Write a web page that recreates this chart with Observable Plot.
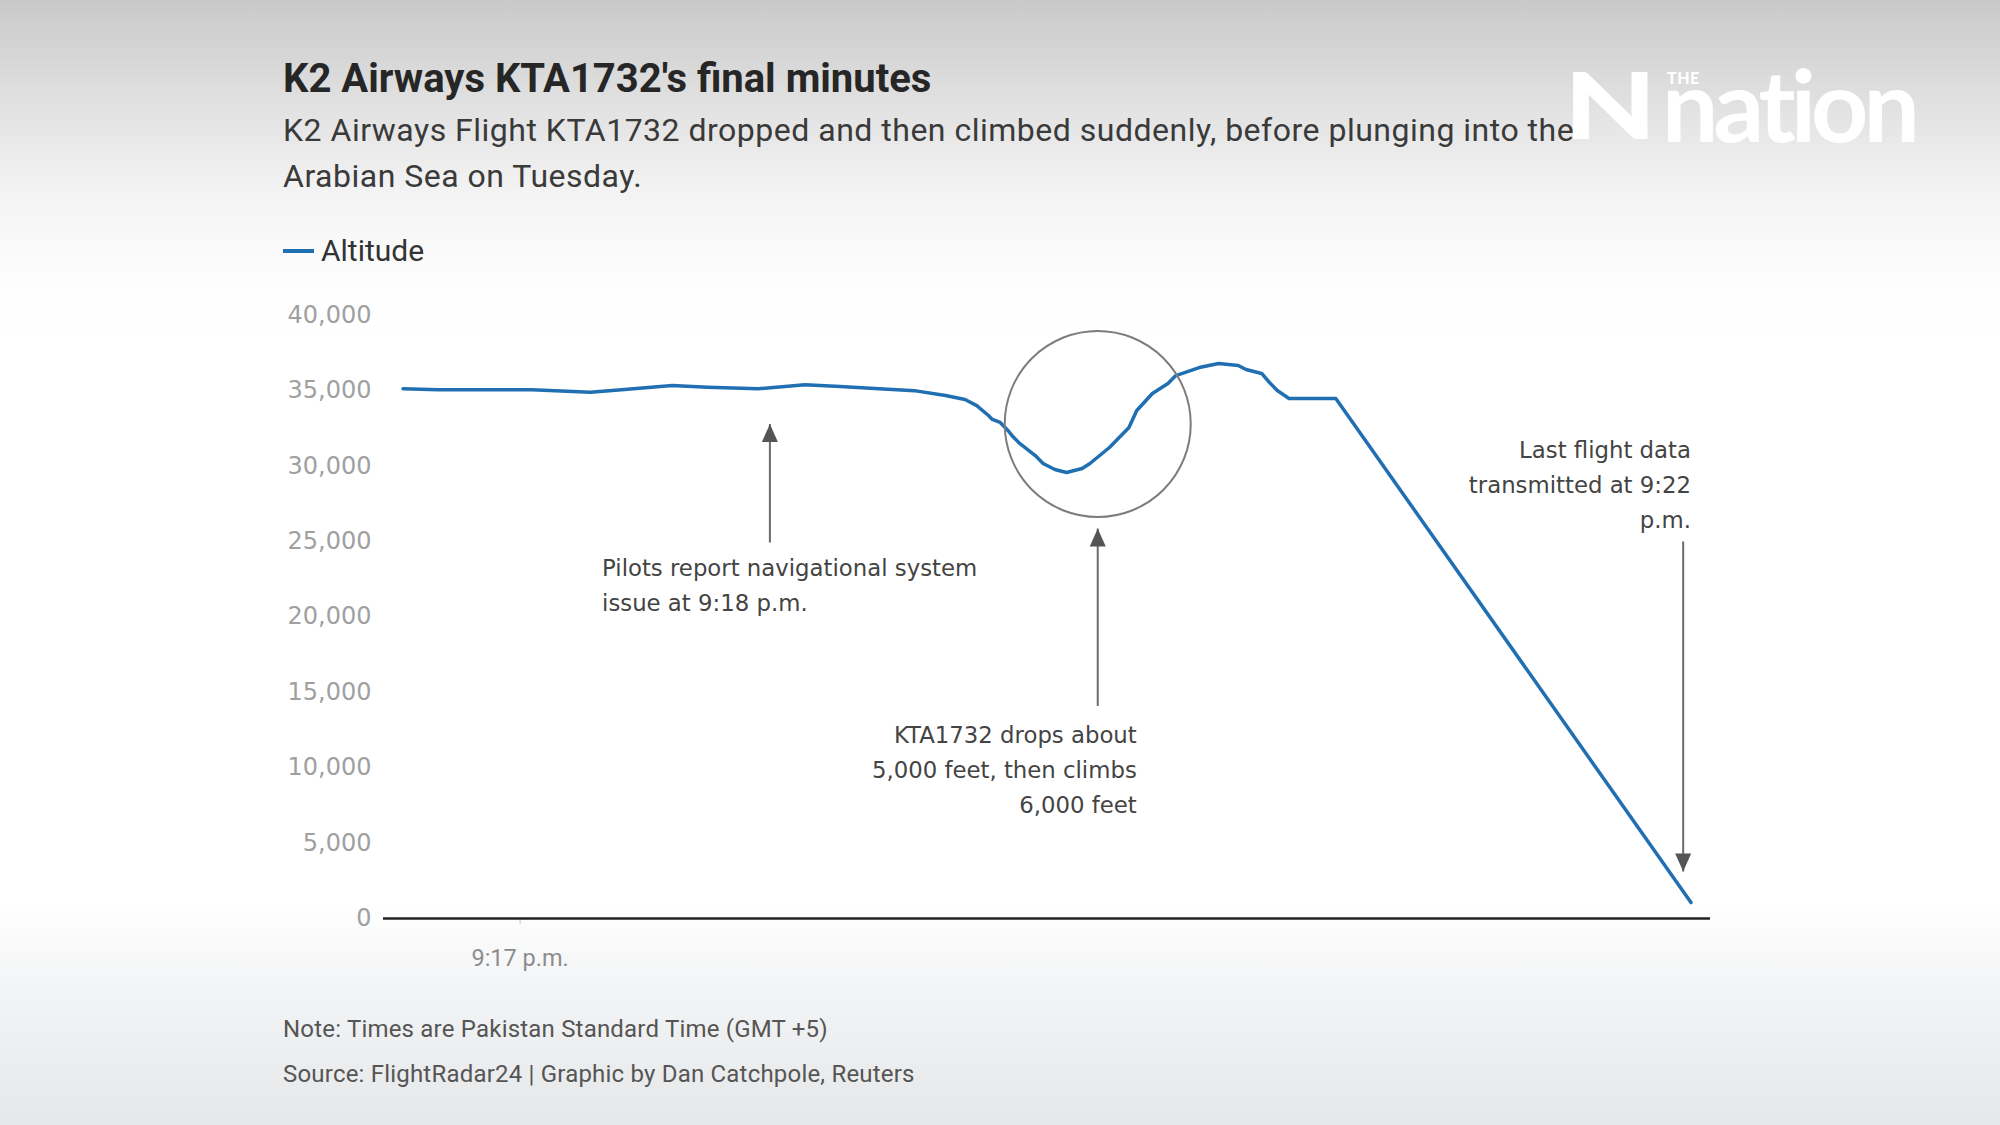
<!DOCTYPE html>
<html>
<head>
<meta charset="utf-8">
<script src="https://cdn.jsdelivr.net/npm/d3@7"></script>
<script src="https://cdn.jsdelivr.net/npm/@observablehq/plot@0.6"></script>
<style>
  html, body { margin: 0; padding: 0; }
  body {
    width: 2000px; height: 1125px; overflow: hidden; position: relative;
    background: linear-gradient(to bottom, #c9c9c9 0px, #dedede 90px, #f3f3f3 190px, #fdfdfd 280px, #ffffff 340px, #ffffff 900px, #f4f5f6 980px, #e6e7e9 1125px);
    font-family: Roboto, "Noto Sans", sans-serif;
  }
  .abs { position: absolute; white-space: nowrap; }
  #title { left: 283px; top: 55px; font-size: 40px; line-height: 48px; font-weight: 700; color: #262626; }
  #subtitle { left: 283px; top: 107px; font-size: 32px; line-height: 46px; letter-spacing: 0.5px; color: #3a3a3a; }
  #legend { left: 283px; top: 233px; font-size: 30px; line-height: 36px; color: #333; }
  #legend .sw { display: inline-block; width: 31px; height: 4px; background: #1f6fb2; vertical-align: middle; margin-right: 7px; position: relative; top: -2px; }
  #note { left: 283px; top: 1014px; font-size: 24px; line-height: 30px; letter-spacing: 0.2px; color: #555; }
  #source { left: 283px; top: 1059px; font-size: 24px; line-height: 30px; letter-spacing: 0.2px; color: #555; }
  #chart { position: absolute; left: 0; top: 270px; }
  .logo { color: #ffffff; font-family: Lato, "Open Sans", sans-serif; }
  #logoN { left: 1564px; top: 58px; font-size: 92px; line-height: 92px; font-weight: 900; transform: scaleX(1.3); transform-origin: left center; }
  #logoNation { left: 1662px; top: 93px; font-size: 100px; line-height: 20px; font-weight: 700; }
  #logoNation .word { letter-spacing: -5px; }
  #logoNation .the { position: relative; display: inline-block; vertical-align: top; width: 0; font-size: 16px; line-height: 13px; font-weight: 900; letter-spacing: 0.5px; top: -22px; left: 5px; }
</style>
</head>
<body>
<div id="title" class="abs">K2 Airways KTA1732's final minutes</div>
<div id="subtitle" class="abs">K2 Airways Flight KTA1732 dropped and then climbed suddenly, before plunging into the<br>Arabian Sea on Tuesday.</div>
<div id="logoN" class="abs logo">N</div>
<div id="logoNation" class="abs logo"><span class="the">THE</span><span class="word">nation</span></div>
<div id="legend" class="abs"><span class="sw"></span>Altitude</div>
<div id="chart"></div>
<div id="note" class="abs">Note: Times are Pakistan Standard Time (GMT +5)</div>
<div id="source" class="abs">Source: FlightRadar24 | Graphic by Dan Catchpole, Reuters</div>
<script>
// ---- Data ----
const times = [
  "21:16:30","21:16:39","21:17:03","21:17:18","21:17:26","21:17:39","21:17:48",
  "21:18:01","21:18:13","21:18:22","21:18:32","21:18:41","21:18:49","21:18:54",
  "21:18:57","21:19:00","21:19:01","21:19:03","21:19:05","21:19:06","21:19:08",
  "21:19:12","21:19:14","21:19:17","21:19:20","21:19:24","21:19:26","21:19:31",
  "21:19:36","21:19:38","21:19:42","21:19:46","21:19:48","21:19:54","21:19:59",
  "21:20:04","21:20:06","21:20:10","21:20:12","21:20:14","21:20:17","21:20:29",
  "21:22:00"
];
const altitudes = [
  35110, 35050, 35050, 34890, 35050, 35330, 35220,
  35110, 35380, 35260, 35110, 34990, 34670, 34400,
  34000, 33340, 33080, 32880, 32350, 32020, 31490,
  30690, 30160, 29760, 29560, 29830, 30160, 31220,
  32550, 33670, 34800, 35460, 35990, 36520, 36790,
  36660, 36390, 36130, 35530, 35000, 34470, 34470,
  1060
];
const xDomain = ["21:16:25", "21:22:05"];
const xTicks = ["21:17:00"];
const xTickLabels = ["9:17 p.m."];
const yTicks = [0, 5000, 10000, 15000, 20000, 25000, 30000, 35000, 40000];

// annotation arrows: time, tail altitude, tip altitude
const arrowTimes = ["21:18:04", "21:19:28", "21:21:58"];
const arrowFrom = [24920, 14090, 24990];
const arrowTo = [32780, 25850, 3115];

// annotation texts
const noteTimes = ["21:17:21", "21:19:38", "21:22:00"];
const noteAlts = [22300, 10076, 28967];
const noteTexts = [
  "Pilots report navigational system\nissue at 9:18 p.m.",
  "KTA1732 drops about\n5,000 feet, then climbs\n6,000 feet",
  "Last flight data\ntransmitted at 9:22\np.m."
];
const noteAnchors = ["start", "end", "end"];

// highlighted region (circle)
const circleTime = "21:19:28";
const circleAlt = 32780;

// ---- Build ----
const parse = d3.timeParse("%H:%M:%S");
const data = times.map((t, i) => ({time: parse(t), alt: altitudes[i]}));
const arrows = arrowTimes.map((t, i) => ({time: parse(t), from: arrowFrom[i], to: arrowTo[i]}));
const notes = noteTimes.map((t, i) => ({time: parse(t), alt: noteAlts[i], text: noteTexts[i], anchor: noteAnchors[i]}));
const circle = [{time: parse(circleTime), alt: circleAlt}];
const tickDates = xTicks.map(parse);
const tickLabelMap = new Map(tickDates.map((d, i) => [+d, xTickLabels[i]]));

const headUp = {draw(ctx) { ctx.moveTo(0, 0); ctx.lineTo(8, 18); ctx.lineTo(-8, 18); ctx.closePath(); }};
const headDown = {draw(ctx) { ctx.moveTo(0, 0); ctx.lineTo(8, -18); ctx.lineTo(-8, -18); ctx.closePath(); }};

const chart = Plot.plot({
  width: 2000,
  height: 720,
  marginLeft: 383,
  marginRight: 290,
  marginTop: 44.56,
  marginBottom: 72,
  x: {type: "time", domain: xDomain.map(parse)},
  y: {domain: [0, 40000]},
  style: {background: "transparent", fontFamily: "'DejaVu Sans', sans-serif", overflow: "visible"},
  marks: [
    Plot.axisY({ticks: yTicks, tickSize: 0, tickPadding: 12, tickFormat: d3.format(","), fontSize: 24, fill: "#a0a0a0", label: null}),
    Plot.axisX({ticks: tickDates, tickSize: 6, tickPadding: 25, stroke: "#c4c4c4", fill: "#8c8c8c", fontSize: 23.5, fontFamily: "Roboto, sans-serif", tickFormat: d => tickLabelMap.get(+d), label: null}),
    Plot.ruleY([0], {stroke: "#222", strokeWidth: 2.5}),
    Plot.line(data, {x: "time", y: "alt", stroke: "#1f6fb2", strokeWidth: 3.5, strokeLinejoin: "round", strokeLinecap: "round"}),
    Plot.dot(circle, {x: "time", y: "alt", r: 93, stroke: "#7c7c7c", strokeWidth: 2, fill: "none"}),
    Plot.link(arrows, {x1: "time", x2: "time", y1: "from", y2: "to", stroke: "#6a6a6a", strokeWidth: 2}),
    Plot.dot(arrows.filter(d => d.to > d.from), {x: "time", y: "to", symbol: headUp, fill: "#555", stroke: "none", r: 5}),
    Plot.dot(arrows.filter(d => d.to < d.from), {x: "time", y: "to", symbol: headDown, fill: "#555", stroke: "none", r: 5}),
    Plot.text(notes.filter(d => d.anchor === "start"), {x: "time", y: "alt", text: "text", textAnchor: "start", lineHeight: 1.53, fontSize: 22.8, fill: "#444"}),
    Plot.text(notes.filter(d => d.anchor === "end"), {x: "time", y: "alt", text: "text", textAnchor: "end", lineHeight: 1.53, fontSize: 22.8, fill: "#444"})
  ]
});
document.getElementById("chart").appendChild(chart);
</script>
</body>
</html>
